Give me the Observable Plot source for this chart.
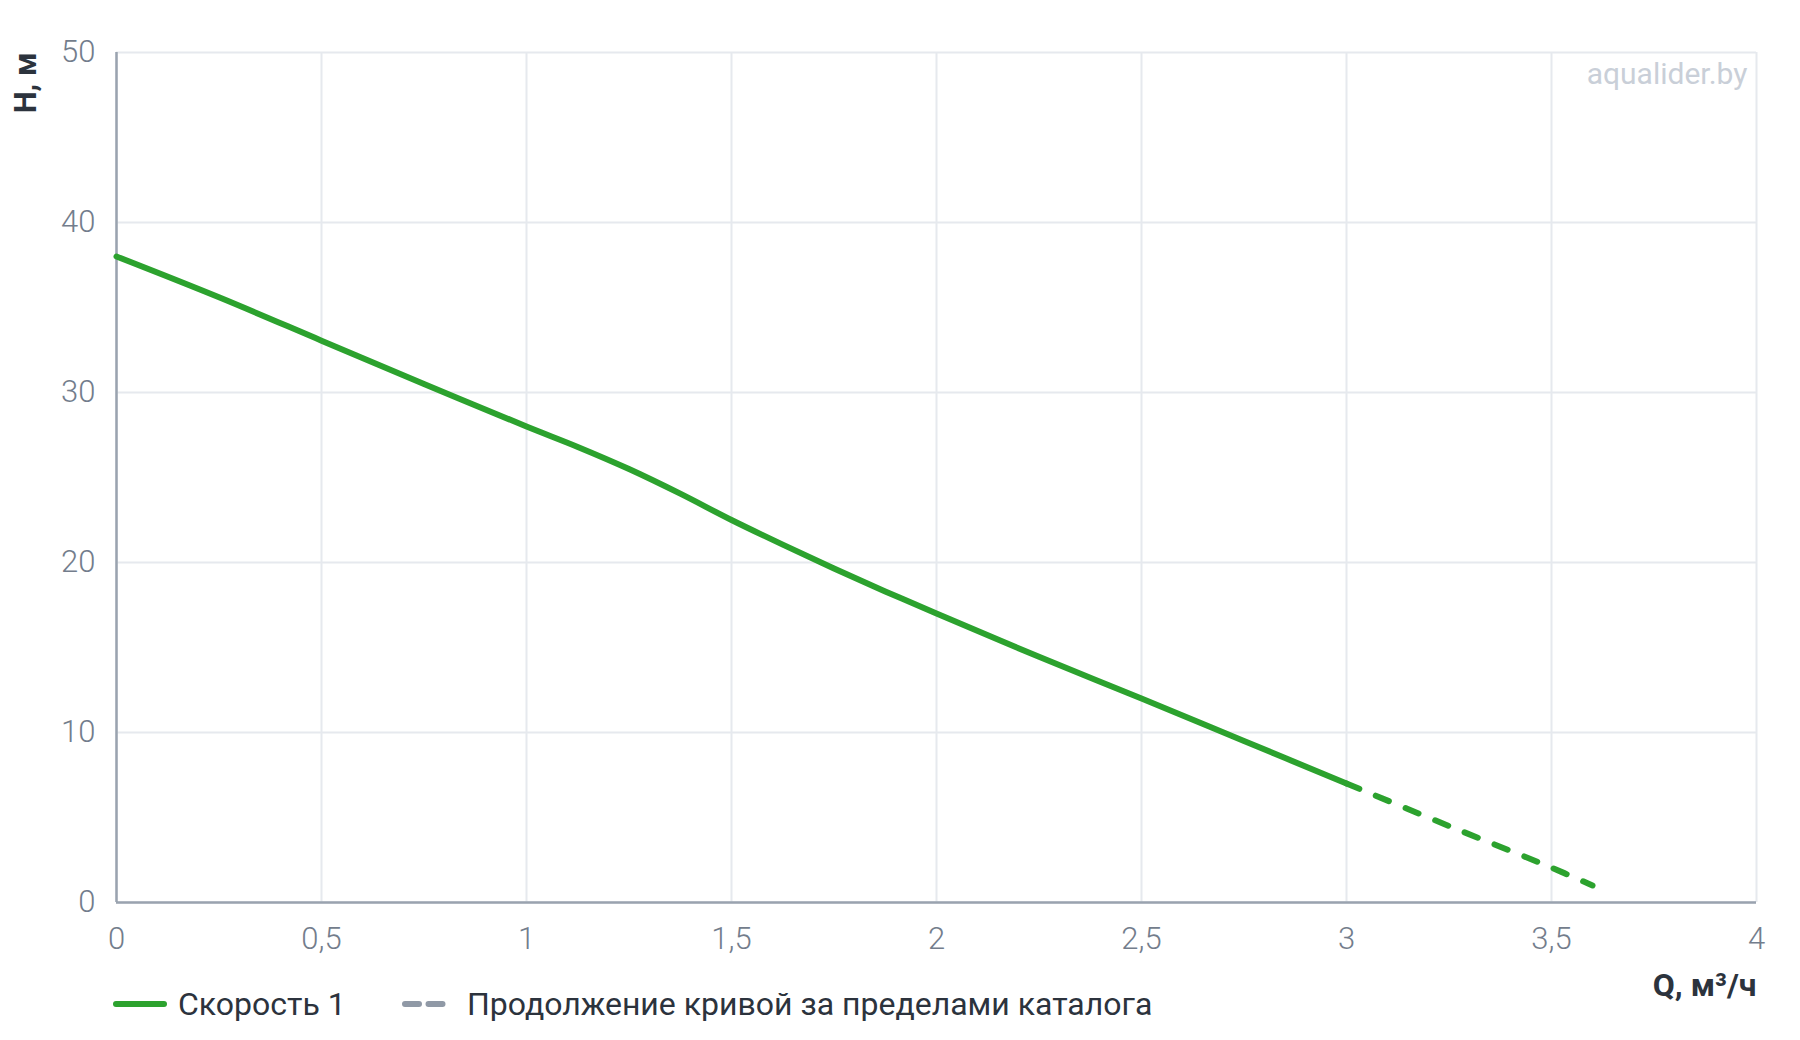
<!DOCTYPE html>
<html>
<head>
<meta charset="utf-8">
<script src="https://cdn.jsdelivr.net/npm/d3@7"></script>
<script src="https://cdn.jsdelivr.net/npm/@observablehq/plot@0.6"></script>
<style>
  html, body { margin: 0; padding: 0; background: #ffffff; }
  #chart svg { display: block; }
  #legend { position: relative; width: 1800px; height: 40px; margin-top: -16px; font-family: Roboto, sans-serif; font-size: 32px; color: #2c333d; }
  #legend .sw { position: absolute; top: 0; }
  #legend .lbl { position: absolute; top: 0; line-height: 40px; white-space: nowrap; }
</style>
</head>
<body>
<div id="chart"></div>
<div id="legend"></div>
<script>
// ---- data ----
const flowQ = [0, 0.25, 0.5, 0.75, 1, 1.125, 1.25, 1.375, 1.5, 1.625, 1.75, 1.875, 2, 2.25, 2.5, 2.75, 3];
const headH = [38.0, 35.6, 33.05, 30.5, 28.0, 26.8, 25.5, 24.05, 22.5, 21.05, 19.65, 18.3, 17.0, 14.45, 12.0, 9.5, 7.0];
const extQ = [3.0, 3.25, 3.5, 3.6];
const extH = [7.0, 4.5, 2.05, 1.0];
const xTicks = [0, 0.5, 1, 1.5, 2, 2.5, 3, 3.5, 4];
const yTicks = [0, 10, 20, 30, 40, 50];
const seriesNames = ["Скорость 1", "Продолжение кривой за пределами каталога"];
const xLabel = "Q, м³/ч";
const yLabel = "H, м";
const watermark = "aqualider.by";

const green = "#2ca22e";
const gridColor = "#e6e9ee";
const axisColor = "#9aa3af";
const tickColor = "#737d8c";
const darkText = "#2c333d";

const main = flowQ.map((q, i) => ({q, h: headH[i]}));
const ext = extQ.map((q, i) => ({q, h: extH[i]}));
const fmt = d => String(d).replace(".", ",");

const chart = Plot.plot({
  width: 1800,
  height: 1000,
  marginLeft: 116,
  marginRight: 44,
  marginTop: 52,
  marginBottom: 98,
  style: {fontFamily: "Roboto, sans-serif", background: "#ffffff", overflow: "visible"},
  x: {domain: [0, 4]},
  y: {domain: [0, 50]},
  marks: [
    Plot.gridX(xTicks, {stroke: gridColor, strokeOpacity: 1, strokeWidth: 2}),
    Plot.gridY(yTicks, {stroke: gridColor, strokeOpacity: 1, strokeWidth: 2}),
    Plot.ruleX([0], {stroke: axisColor, strokeWidth: 2.5}),
    Plot.ruleY([0], {stroke: axisColor, strokeWidth: 2.5}),
    Plot.axisX(xTicks, {tickSize: 0, tickPadding: 24, fontSize: 31, fontWeight: 300, fill: tickColor, tickFormat: fmt, label: null}),
    Plot.axisY(yTicks, {tickSize: 0, tickPadding: 21, fontSize: 31, fontWeight: 300, fill: tickColor, tickFormat: fmt, label: null}),
    Plot.line(main, {x: "q", y: "h", stroke: green, strokeWidth: 6, curve: "catmull-rom", strokeLinecap: "round", strokeLinejoin: "round"}),
    Plot.line(ext, {x: "q", y: "h", stroke: green, strokeWidth: 6, curve: "catmull-rom", strokeLinecap: "round", strokeDasharray: "14 18"}),
    Plot.text([watermark], {frameAnchor: "top-right", dx: -9, dy: 31, lineAnchor: "bottom", textAnchor: "end", fontSize: 30, fill: "#c9cfd8"}),
    Plot.text([xLabel], {frameAnchor: "bottom-right", dx: 0, dy: 93, lineAnchor: "bottom", textAnchor: "end", fontSize: 32, fontWeight: 700, fill: darkText}),
    Plot.text([yLabel], {frameAnchor: "top-left", dx: -81, dy: 0, rotate: -90, lineAnchor: "bottom", textAnchor: "end", fontSize: 31, fontWeight: 700, fill: darkText})
  ]
});
document.getElementById("chart").appendChild(chart);

// ---- legend (HTML below the SVG) ----
const legend = document.getElementById("legend");
legend.innerHTML = `
  <svg class="sw" style="left:110px" width="60" height="40"><line x1="6" x2="54" y1="20" y2="20" stroke="${green}" stroke-width="6" stroke-linecap="round"/></svg>
  <div class="lbl" style="left:178px">${seriesNames[0]}</div>
  <svg class="sw" style="left:399px" width="60" height="40"><line x1="6" x2="53" y1="20" y2="20" stroke="#9099a6" stroke-width="6" stroke-linecap="round" stroke-dasharray="14 9.5"/></svg>
  <div class="lbl" style="left:467px">${seriesNames[1]}</div>
`;
</script>
</body>
</html>
